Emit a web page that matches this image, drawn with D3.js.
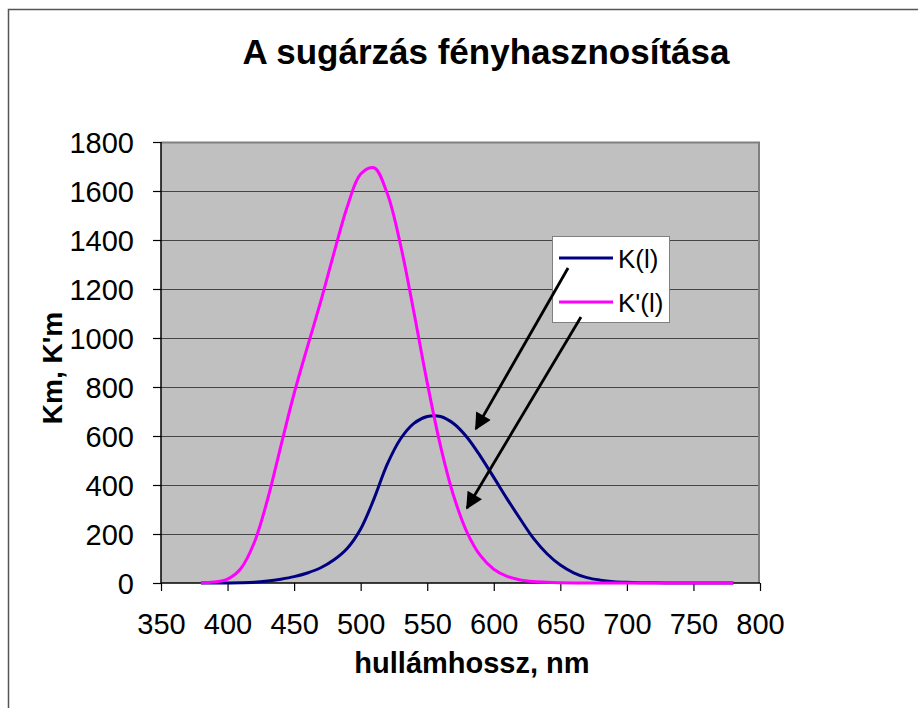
<!DOCTYPE html>
<html>
<head>
<meta charset="utf-8">
<script src="https://cdn.jsdelivr.net/npm/d3@7"></script>
<style>
  html, body { margin: 0; padding: 0; background: #fff; }
  svg { display: block; font-family: Arial, "Liberation Sans", sans-serif; }
</style>
</head>
<body>
<svg id="chart" width="918" height="708"></svg>
<script>
// Wavelengths (nm)
const wavelengths = [380, 390, 400, 410, 420, 430, 440, 450, 460, 470, 480, 490, 500, 510, 520, 530, 540, 550, 560, 570, 580, 590, 600, 610, 620, 630, 640, 650, 660, 670, 680, 690, 700, 710, 720, 730, 740, 750, 760, 770, 780];

// K(l): photopic luminous efficacy, lm/W
const kPhotopic = [0.03, 0.08, 0.27, 0.82, 2.7, 7.9, 15.7, 26.0, 41.0, 62.2, 94.9, 142.1, 220.6, 343.5, 484.9, 588.7, 651.6, 679.6, 679.6, 650.2, 594.2, 517.0, 431.0, 343.5, 260.2, 181.0, 119.5, 73.1, 41.7, 21.9, 11.6, 5.6, 2.8, 1.4, 0.72, 0.36, 0.17, 0.08, 0.04, 0.02, 0.01];

// K'(l): scotopic luminous efficacy, lm/W
const kScotopic = [1.0, 3.8, 15.8, 59.2, 164.2, 339.7, 557.8, 773.5, 963.9, 1149.2, 1348.1, 1536.8, 1669.4, 1694.9, 1589.5, 1378.7, 1105.0, 817.7, 559.0, 352.9, 206.0, 111.4, 56.4, 27.1, 12.5, 5.7, 2.6, 1.2, 0.5, 0.25, 0.12, 0.06, 0.03, 0.02, 0.01, 0.0, 0.0, 0.0, 0.0, 0.0, 0.0];

const xTicks = [350, 400, 450, 500, 550, 600, 650, 700, 750, 800];
const yTicks = [0, 200, 400, 600, 800, 1000, 1200, 1400, 1600, 1800];

const seriesNames = ["K(l)", "K'(l)"];
const seriesColors = ["#000080", "#ff00ff"];

// Annotation arrows pointing from the legend to each curve: [x0, y0, x1, y1] in data units
const arrows = [
  [655.8, 1286, 586.6, 629],
  [665.5, 1086, 579.9, 306]
];

const svg = d3.select("#chart");

// Outer chart frame
svg.append("path")
  .attr("d", "M8.5,708 L8.5,9.5 L918,9.5")
  .attr("fill", "none")
  .attr("stroke", "#555")
  .attr("stroke-width", 1.5);

const plot = { left: 161, top: 142, right: 760, bottom: 583 };

const x = d3.scaleLinear().domain([350, 800]).range([plot.left, plot.right]);
const y = d3.scaleLinear().domain([0, 1800]).range([plot.bottom, plot.top]);

// Plot background
svg.append("rect")
  .attr("x", plot.left).attr("y", plot.top)
  .attr("width", plot.right - plot.left).attr("height", plot.bottom - plot.top)
  .attr("fill", "#c0c0c0");

// Horizontal gridlines
svg.append("g")
  .selectAll("line")
  .data(yTicks.filter(d => d > 0 && d < 1800))
  .join("line")
  .attr("x1", plot.left).attr("x2", plot.right)
  .attr("y1", d => Math.round(y(d)) + 0.5).attr("y2", d => Math.round(y(d)) + 0.5)
  .attr("stroke", "#444")
  .attr("stroke-width", 1.2);

// Plot border (top and right in gray)
svg.append("path")
  .attr("d", `M${plot.left},${plot.top + 0.5} L${plot.right - 1},${plot.top + 0.5} L${plot.right - 1},${plot.bottom}`)
  .attr("fill", "none")
  .attr("stroke", "#808080")
  .attr("stroke-width", 2);

// Axes
const xAxis = d3.axisBottom(x).tickValues(xTicks).tickFormat(d3.format("d")).tickSize(8).tickPadding(22);
const yAxis = d3.axisLeft(y).tickValues(yTicks).tickFormat(d3.format("d")).tickSize(8).tickPadding(19);

const gx = svg.append("g")
  .attr("transform", `translate(0,${plot.bottom})`)
  .call(xAxis);
const gy = svg.append("g")
  .attr("transform", `translate(${plot.left},0)`)
  .call(yAxis);

[gx, gy].forEach(g => {
  g.select(".domain").attr("stroke", "#000").attr("stroke-width", 1.5);
  g.selectAll(".tick line").attr("stroke", "#000").attr("stroke-width", 1.2);
  g.selectAll(".tick text")
    .attr("fill", "#000")
    .style("font-size", "29px")
    .style("font-family", "Arial, 'Liberation Sans', sans-serif");
});
gx.select(".domain").attr("d", `M${plot.left},0H${plot.right}`);
gy.select(".domain").attr("d", `M0,${plot.bottom}V${plot.top}`);
gy.selectAll(".tick text").attr("dy", "0.36em");

// Curves
const seriesData = [kPhotopic, kScotopic];
const line = d3.line()
  .x((d, i) => x(wavelengths[i]))
  .y(d => y(d))
  .curve(d3.curveCatmullRom.alpha(0.5));

svg.append("g")
  .selectAll("path")
  .data(seriesData)
  .join("path")
  .attr("d", d => line(d))
  .attr("fill", "none")
  .attr("stroke", (d, i) => seriesColors[i])
  .attr("stroke-width", 3)
  .attr("stroke-linejoin", "round");

// Legend
const legend = svg.append("g");
legend.append("rect")
  .attr("x", 552.5).attr("y", 236.5)
  .attr("width", 117).attr("height", 86)
  .attr("fill", "#fff")
  .attr("stroke", "#808080")
  .attr("stroke-width", 1);

seriesNames.forEach((name, i) => {
  const ly = 258 + i * 44;
  legend.append("line")
    .attr("x1", 559).attr("x2", 613)
    .attr("y1", ly).attr("y2", ly)
    .attr("stroke", seriesColors[i])
    .attr("stroke-width", 3);
  legend.append("text")
    .attr("x", 618).attr("y", ly + 10)
    .attr("fill", "#000")
    .style("font-size", "26px")
    .text(name);
});

// Arrows
const defs = svg.append("defs");
defs.append("marker")
  .attr("id", "arrowhead")
  .attr("viewBox", "0 0 10 10")
  .attr("refX", 9).attr("refY", 5)
  .attr("markerWidth", 7).attr("markerHeight", 6)
  .attr("markerUnits", "strokeWidth")
  .attr("orient", "auto")
  .append("path")
  .attr("d", "M0,0 L10,5 L0,10 Z")
  .attr("fill", "#000");

svg.append("g")
  .selectAll("line")
  .data(arrows)
  .join("line")
  .attr("x1", d => x(d[0])).attr("y1", d => y(d[1]))
  .attr("x2", d => x(d[2])).attr("y2", d => y(d[3]))
  .attr("stroke", "#000")
  .attr("stroke-width", 2.8)
  .attr("marker-end", "url(#arrowhead)");

// Title
svg.append("text")
  .attr("x", 486).attr("y", 64)
  .attr("text-anchor", "middle")
  .style("font-size", "35px")
  .style("font-weight", "bold")
  .text("A sugárzás fényhasznosítása");

// Axis titles
svg.append("text")
  .attr("x", 472).attr("y", 673)
  .attr("text-anchor", "middle")
  .style("font-size", "29px")
  .style("font-weight", "bold")
  .text("hullámhossz, nm");

svg.append("text")
  .attr("transform", "translate(62,368) rotate(-90)")
  .attr("text-anchor", "middle")
  .style("font-size", "28px")
  .style("font-weight", "bold")
  .text("Km, K'm");
</script>
</body>
</html>
